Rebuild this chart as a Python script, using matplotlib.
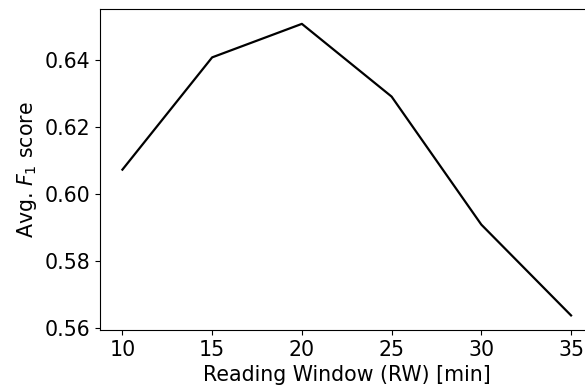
import matplotlib
matplotlib.use("Agg")
import matplotlib.pyplot as plt

# reading window length [min] vs averaged F1
rw_minutes = [10, 15, 20, 25, 30, 35]
avg_f1 = [0.6072, 0.6407, 0.6507, 0.6290, 0.5908, 0.5637]

plt.rcParams['font.size'] = 14.8

fig = plt.figure(figsize=(5.85, 3.87), dpi=100)
ax = fig.add_axes([0.1709, 0.1473, 0.8436, 0.8287])
ax.plot(rw_minutes, avg_f1, color='k', lw=1.6)
ax.set_xticks(rw_minutes)
ax.set_yticks([0.56, 0.58, 0.60, 0.62, 0.64])
ax.set_xlabel('Reading Window (RW) [min]')
ax.set_ylabel('Avg. $F_1$ score')
fig.savefig('out.png', dpi=100)
